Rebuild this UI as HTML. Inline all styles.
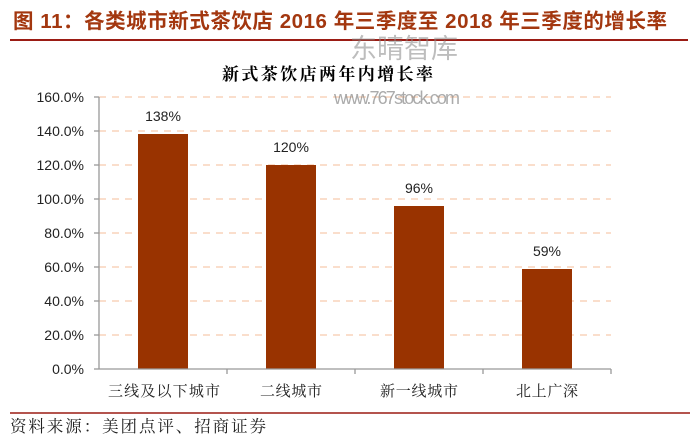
<!DOCTYPE html>
<html><head><meta charset="utf-8"><style>
body{margin:0;background:#fff;}
svg{display:block;}
</style></head><body>
<svg width="700" height="448" xmlns="http://www.w3.org/2000/svg" font-family="'Liberation Sans','Noto Sans CJK SC',sans-serif">
<text x="13" y="28" font-size="20.5" font-weight="bold" fill="#a3370f" textLength="654" lengthAdjust="spacing">图 11：各类城市新式茶饮店 2016 年三季度至 2018 年三季度的增长率</text>
<line x1="10" y1="40" x2="688" y2="40" stroke="#9b1c14" stroke-width="2"/>
<text x="222" y="80" font-size="17" font-weight="bold" font-family="'Noto Serif CJK SC',serif" textLength="211" lengthAdjust="spacing">新式茶饮店两年内增长率</text>
<g stroke="#f8cbad" stroke-width="1.3" stroke-dasharray="7,6">
<line x1="99" y1="97" x2="611" y2="97"/><line x1="99" y1="131" x2="611" y2="131"/>
<line x1="99" y1="165" x2="611" y2="165"/><line x1="99" y1="199" x2="611" y2="199"/>
<line x1="99" y1="233" x2="611" y2="233"/><line x1="99" y1="267" x2="611" y2="267"/>
<line x1="99" y1="301" x2="611" y2="301"/><line x1="99" y1="335" x2="611" y2="335"/>
</g>
<g fill="#993300">
<rect x="138" y="134" width="50" height="235"/>
<rect x="266" y="165" width="50" height="204"/>
<rect x="394" y="206" width="50" height="163"/>
<rect x="522" y="269" width="50" height="100"/>
</g>
<g stroke="#999" stroke-width="1.3">
<line x1="99" y1="97" x2="99" y2="369"/><line x1="99" y1="369" x2="611" y2="369"/>
<line x1="94" y1="97" x2="99" y2="97"/><line x1="94" y1="131" x2="99" y2="131"/><line x1="94" y1="165" x2="99" y2="165"/><line x1="94" y1="199" x2="99" y2="199"/><line x1="94" y1="233" x2="99" y2="233"/><line x1="94" y1="267" x2="99" y2="267"/><line x1="94" y1="301" x2="99" y2="301"/><line x1="94" y1="335" x2="99" y2="335"/><line x1="94" y1="369" x2="99" y2="369"/>
<line x1="227" y1="369" x2="227" y2="374"/><line x1="355" y1="369" x2="355" y2="374"/><line x1="483" y1="369" x2="483" y2="374"/><line x1="611" y1="369" x2="611" y2="374"/>
</g>
<g font-size="14" text-anchor="end" fill="#222">
<text x="84" y="102">160.0%</text><text x="84" y="136">140.0%</text><text x="84" y="170">120.0%</text><text x="84" y="204">100.0%</text><text x="84" y="238">80.0%</text><text x="84" y="272">60.0%</text><text x="84" y="306">40.0%</text><text x="84" y="340">20.0%</text><text x="84" y="374">0.0%</text>
</g>
<g font-size="14" text-anchor="middle" fill="#222">
<text x="163" y="121">138%</text><text x="291" y="152">120%</text><text x="419" y="193">96%</text><text x="547" y="256">59%</text>
</g>
<g font-size="15" fill="#222" font-family="'Noto Serif CJK SC',serif">
<text x="108" y="396" textLength="112" lengthAdjust="spacing">三线及以下城市</text>
<text x="260" y="396" textLength="62" lengthAdjust="spacing">二线城市</text>
<text x="380" y="396" textLength="78" lengthAdjust="spacing">新一线城市</text>
<text x="516" y="396" textLength="62" lengthAdjust="spacing">北上广深</text>
</g>
<text x="350" y="58" font-size="27" fill="#888" opacity="0.55">东晴智库</text>
<text x="334" y="104" font-size="18" fill="#888" opacity="0.7" textLength="126">www.767stock.com</text>
<line x1="10" y1="413" x2="690" y2="413" stroke="#9b1c14" stroke-width="1.5"/>
<text x="10" y="432" font-size="16.5" fill="#222" font-family="'Noto Serif CJK SC',serif" textLength="256" lengthAdjust="spacing">资料来源：美团点评、招商证券</text>
</svg>
</body></html>
